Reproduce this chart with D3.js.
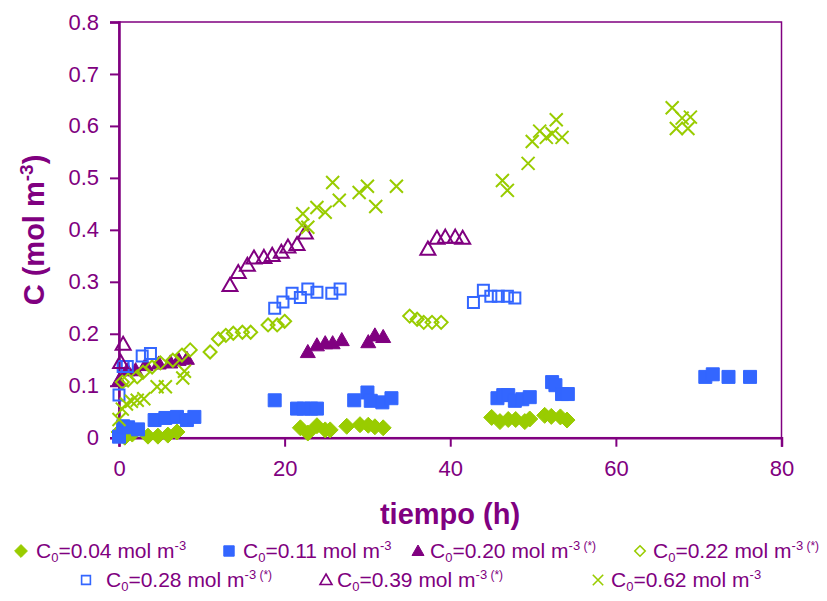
<!DOCTYPE html>
<html><head><meta charset="utf-8">
<script src="https://cdn.jsdelivr.net/npm/d3@7"></script>
<style>body{margin:0;background:#fff}svg{display:block;font-family:"Liberation Sans",Arial,sans-serif}</style>
</head><body><svg id="c" width="827" height="601"></svg>
<script>
// ---- data ----
const xTickValues = [0, 20, 40, 60, 80];
const yTickValues = [0, 0.1, 0.2, 0.3, 0.4, 0.5, 0.6, 0.7, 0.8];
const yTickLabels = ["0", "0.1", "0.2", "0.3", "0.4", "0.5", "0.6", "0.7", "0.8"];

const t004 = [0, 0.7, 1.6, 3.5, 4.7, 5.9, 7.0, 21.9, 22.8, 23.9, 24.9, 25.5, 27.5, 29.1, 30.1, 30.9, 31.9, 45.0, 46.0, 47.0, 47.9, 49.0, 49.6, 51.4, 52.2, 53.3, 54.1];
const c004 = [0.011, 0.001, 0.007, 0.003, 0.003, 0.005, 0.011, 0.019, 0.009, 0.023, 0.015, 0.015, 0.022, 0.025, 0.024, 0.021, 0.019, 0.039, 0.031, 0.035, 0.035, 0.031, 0.036, 0.043, 0.041, 0.040, 0.034];

const t011 = [0, 0.5, 1.1, 2.3, 4.3, 5.6, 7.0, 8.2, 9.1, 18.8, 21.5, 22.3, 23.2, 23.9, 28.4, 30.0, 30.4, 31.8, 32.9, 45.7, 46.4, 47.0, 47.8, 48.7, 49.6, 52.3, 52.7, 53.5, 54.2, 70.8, 71.7, 73.6, 76.2];
const c011 = [0.002, 0.022, 0.02, 0.016, 0.034, 0.038, 0.040, 0.034, 0.040, 0.072, 0.056, 0.056, 0.056, 0.056, 0.072, 0.087, 0.071, 0.068, 0.076, 0.076, 0.082, 0.082, 0.071, 0.074, 0.078, 0.107, 0.101, 0.084, 0.084, 0.117, 0.122, 0.117, 0.117];

const t020 = [0, 1.0, 2.0, 3.2, 4.8, 6.2, 7.2, 8.2, 22.8, 23.9, 24.9, 25.8, 26.9, 30.1, 30.9, 31.9];
const c020 = [0.11, 0.13, 0.13, 0.14, 0.143, 0.145, 0.15, 0.152, 0.165, 0.178, 0.182, 0.182, 0.188, 0.184, 0.197, 0.194];

const t022 = [0.4, 1.1, 2.2, 2.9, 4.0, 5.0, 6.5, 7.6, 8.6, 11.0, 12.0, 12.9, 13.8, 14.9, 15.9, 18.0, 19.1, 20.0, 35.1, 36.0, 36.8, 37.8, 38.9];
const c022 = [0.107, 0.111, 0.117, 0.126, 0.136, 0.144, 0.149, 0.159, 0.169, 0.165, 0.19, 0.197, 0.201, 0.203, 0.203, 0.217, 0.217, 0.224, 0.234, 0.228, 0.222, 0.222, 0.222];

const t028 = [0, 0.5, 1.0, 2.8, 3.8, 18.8, 19.8, 20.9, 21.9, 22.8, 23.9, 25.7, 26.7, 42.8, 44.0, 44.9, 45.8, 46.9, 47.8];
const c028 = [0.082, 0.137, 0.137, 0.157, 0.162, 0.249, 0.261, 0.278, 0.27, 0.286, 0.28, 0.278, 0.286, 0.26, 0.284, 0.272, 0.272, 0.272, 0.269];

const t039 = [0.2, 0.5, 13.4, 14.4, 15.5, 16.3, 17.5, 18.5, 19.6, 20.4, 21.5, 22.5, 37.3, 38.4, 39.4, 40.6, 41.5];
const c039 = [0.145, 0.18, 0.293, 0.318, 0.332, 0.346, 0.347, 0.351, 0.357, 0.367, 0.372, 0.394, 0.363, 0.384, 0.386, 0.386, 0.384];

const t062 = [0, 0.4, 0.9, 1.5, 2.2, 3.0, 4.6, 5.6, 7.7, 7.9, 22.1, 22.2, 22.8, 23.9, 24.9, 25.8, 26.6, 29.0, 30.0, 31.0, 33.5, 46.3, 46.9, 49.4, 49.9, 50.8, 51.6, 52.3, 52.8, 53.5, 66.8, 67.3, 68.0, 68.7, 69.0];
const c062 = [0.035, 0.055, 0.065, 0.07, 0.072, 0.075, 0.098, 0.098, 0.115, 0.128, 0.409, 0.431, 0.405, 0.443, 0.434, 0.491, 0.457, 0.472, 0.484, 0.445, 0.484, 0.495, 0.476, 0.528, 0.57, 0.59, 0.578, 0.585, 0.612, 0.578, 0.635, 0.595, 0.615, 0.595, 0.617];

const seriesNames = ["0.04", "0.11", "0.20", "0.22", "0.28", "0.39", "0.62"];
const seriesStar = [false, false, true, true, true, true, false];

// ---- styles ----
const GREEN = "#99CC00", BLUE = "#3366FF", PURPLE = "#800080";
const series = [
  {t: t004, c: c004, shape: "diamond", color: GREEN, filled: true, size: 8},
  {t: t011, c: c011, shape: "square", color: BLUE, filled: true, size: 6.5},
  {t: t020, c: c020, shape: "triangle", color: PURPLE, filled: true, size: 7.5},
  {t: t022, c: c022, shape: "diamond", color: GREEN, filled: false, size: 6.5},
  {t: t028, c: c028, shape: "square", color: BLUE, filled: false, size: 5.5},
  {t: t039, c: c039, shape: "triangle", color: PURPLE, filled: false, size: 7.5},
  {t: t062, c: c062, shape: "cross", color: GREEN, filled: false, size: 6.5}
];

function shapePath(shape, r) {
  const p = d3.path();
  if (shape === "diamond") { p.moveTo(0,-r); p.lineTo(r,0); p.lineTo(0,r); p.lineTo(-r,0); p.closePath(); }
  else if (shape === "square") { p.rect(-r,-r,2*r,2*r); }
  else if (shape === "triangle") { p.moveTo(0,-r); p.lineTo(r,r*0.75); p.lineTo(-r,r*0.75); p.closePath(); }
  else if (shape === "cross") { p.moveTo(-r,-r); p.lineTo(r,r); p.moveTo(r,-r); p.lineTo(-r,r); }
  return p.toString();
}

const svg = d3.select("#c");
const x = d3.scaleLinear().domain([0, 80]).range([119, 781.5]);
const y = d3.scaleLinear().domain([0, 0.8]).range([437.7, 22]);

// frame
svg.append("rect").attr("x", x(0)).attr("y", y(0.8)).attr("width", x(80)-x(0)).attr("height", y(0)-y(0.8))
  .attr("fill", "none").attr("stroke", PURPLE).attr("stroke-width", 1.5);

const fmt = d => yTickLabels[yTickValues.indexOf(d)];
const gy = svg.append("g").attr("transform", `translate(${x(0)},0)`)
  .call(d3.axisLeft(y).tickValues(yTickValues).tickFormat(fmt).tickSize(9).tickPadding(11));
const gx = svg.append("g").attr("transform", `translate(0,${y(0)})`)
  .call(d3.axisBottom(x).tickValues(xTickValues).tickFormat(d3.format("d")).tickSize(9).tickPadding(14));
[gx, gy].forEach(g => {
  g.selectAll("path.domain").attr("stroke", PURPLE).attr("stroke-width", 2.5);
  g.selectAll(".tick line").attr("stroke", PURPLE).attr("stroke-width", 2);
  g.selectAll(".tick text").attr("fill", PURPLE).attr("font-size", 22).attr("font-family", "Liberation Sans, Arial, sans-serif");
});

// points
series.forEach(s => {
  svg.append("g").selectAll("path").data(s.t.map((t, i) => [t, s.c[i]])).join("path")
    .attr("transform", d => `translate(${x(d[0])},${y(d[1])})`)
    .attr("d", shapePath(s.shape, s.size))
    .attr("fill", s.filled ? s.color : "none")
    .attr("stroke", s.color)
    .attr("stroke-width", s.filled ? 1 : 2);
});

// axis titles
svg.append("text").attr("x", 450).attr("y", 524).attr("text-anchor", "middle")
  .attr("font-size", 29).attr("font-weight", "bold").attr("fill", PURPLE).text("tiempo (h)");
const yt = svg.append("text").attr("transform", "translate(44,230) rotate(-90)").attr("text-anchor", "middle")
  .attr("font-size", 29).attr("font-weight", "bold").attr("fill", PURPLE);
yt.append("tspan").text("C (mol m");
yt.append("tspan").attr("font-size", 19).attr("dy", -11).text("-3");
yt.append("tspan").attr("dy", 11).text(")");

// legend
const legendPos = [
  [21, 551, 36], [229, 551, 243], [418, 551, 430], [640, 551, 653],
  [86, 580, 106], [326, 580, 337], [598, 580, 611]
];
series.forEach((s, i) => {
  const [mx, my, tx] = legendPos[i];
  const g = svg.append("g");
  g.append("path").attr("transform", `translate(${mx},${my})`)
    .attr("d", shapePath(s.shape, s.size * 0.8))
    .attr("fill", s.filled ? s.color : "none").attr("stroke", s.color).attr("stroke-width", s.filled ? 1 : 1.6);
  const tt = g.append("text").attr("x", tx).attr("y", my + 7).attr("font-size", 21).attr("fill", PURPLE)
    .attr("font-family", "Liberation Sans, Arial, sans-serif");
  tt.append("tspan").text("C");
  tt.append("tspan").attr("font-size", 13).attr("dy", 4).text("0");
  tt.append("tspan").attr("dy", -4).text("=" + seriesNames[i] + " mol m");
  tt.append("tspan").attr("font-size", 13).attr("dy", -8).text("-3");
  if (seriesStar[i]) tt.append("tspan").attr("font-size", 12).text(" (*)");
});
</script></body></html>
